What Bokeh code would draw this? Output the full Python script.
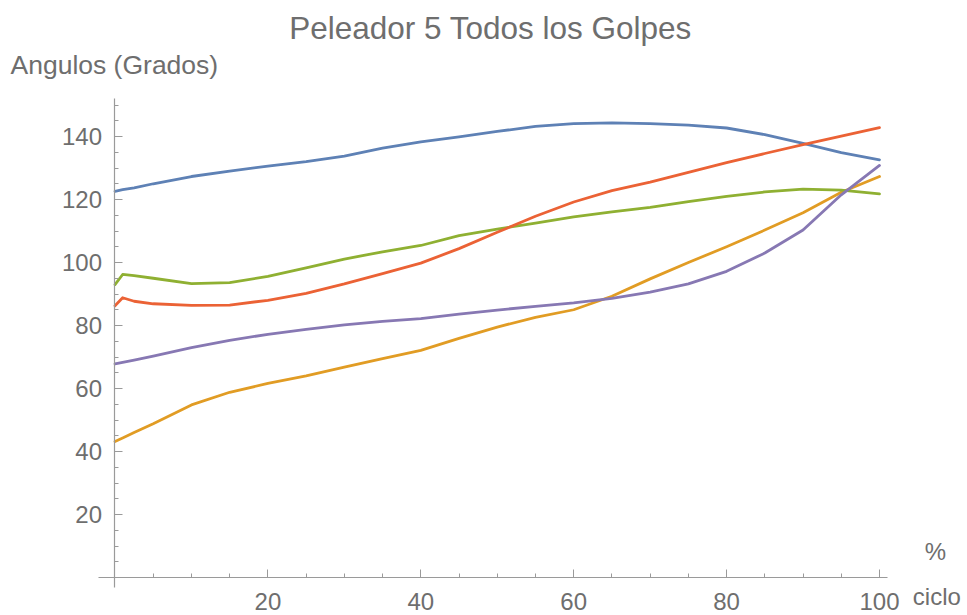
from bokeh.plotting import figure
from bokeh.models import Range1d, FixedTicker, Label
from bokeh.embed import file_html
from bokeh.resources import INLINE

# ---- data ----
ciclo = [0, 1, 2.5, 5, 10, 15, 20, 25, 30, 35, 40, 45, 50, 55, 60, 65, 70, 75, 80, 85, 90, 95, 100]

serie_azul = [122.6, 123.1, 123.7, 125.0, 127.3, 129.0, 130.6, 132.0, 133.8, 136.3, 138.3, 139.9,
              141.6, 143.2, 144.1, 144.3, 144.1, 143.6, 142.7, 140.6, 137.8, 134.9, 132.6]
serie_naranja = [43.2, 44.3, 46.0, 48.8, 54.8, 58.8, 61.6, 64.0, 66.8, 69.5, 72.1, 75.9,
                 79.5, 82.6, 85.0, 89.3, 94.8, 100.0, 105.0, 110.3, 115.8, 122.3, 127.3]
serie_verde = [93.0, 96.2, 95.8, 95.0, 93.3, 93.6, 95.6, 98.3, 101.1, 103.4, 105.4, 108.5,
               110.6, 112.5, 114.5, 116.1, 117.5, 119.3, 121.0, 122.4, 123.3, 123.0, 121.8]
serie_roja = [86.3, 88.8, 87.7, 86.9, 86.4, 86.5, 88.0, 90.2, 93.2, 96.5, 99.8, 104.4,
              109.6, 114.7, 119.2, 122.8, 125.5, 128.6, 131.7, 134.6, 137.4, 140.1, 142.8]
serie_morada = [67.8, 68.3, 69.0, 70.3, 73.0, 75.3, 77.2, 78.8, 80.2, 81.3, 82.2, 83.6,
                84.9, 86.1, 87.2, 88.6, 90.6, 93.2, 97.2, 103.0, 110.3, 121.5, 130.8]

series = [serie_azul, serie_naranja, serie_verde, serie_roja, serie_morada]
colores = ["#5E81B5", "#E19C24", "#8FB032", "#EB6235", "#8778B3"]

x_ticks = [20, 40, 60, 80, 100]
x_minor = [5, 10, 15, 25, 30, 35, 45, 50, 55, 65, 70, 75, 85, 90, 95]
y_ticks = [20, 40, 60, 80, 100, 120, 140]
y_minor = [5, 10, 15, 25, 30, 35, 45, 50, 55, 65, 70, 75, 85, 90, 95, 105, 110, 115,
           125, 130, 135, 145, 150]

titulo = "Peleador 5 Todos los Golpes"
etiqueta_y = "Angulos (Grados)"
etiqueta_x_1 = "%"
etiqueta_x_2 = "ciclo"

FONT = "Liberation Sans"
TXT = "#6e6e6e"
AX = "#9a9a9a"

# the frame covers the whole canvas; axes are drawn at x=0 / y=0
p = figure(width=967, height=615,
           x_range=Range1d(-14.977, 111.511), y_range=Range1d(-12.063, 183.175),
           output_backend="svg", toolbar_location=None,
           min_border_left=0, min_border_right=0, min_border_top=0, min_border_bottom=0)
p.title.visible = False
p.outline_line_color = None
p.grid.visible = False
p.background_fill_color = "white"

for ys, c in zip(series, colores):
    p.line(ciclo, ys, line_color=c, line_width=2.8, line_join="round", line_cap="round")

xa = p.xaxis[0]
xa.fixed_location = 0
xa.bounds = (-2.16, 101.05)
xa.ticker = FixedTicker(ticks=x_ticks, minor_ticks=x_minor)
ya = p.yaxis[0]
ya.fixed_location = 0
ya.bounds = (-3.2, 152.06)
ya.ticker = FixedTicker(ticks=y_ticks, minor_ticks=y_minor)

for ax in (xa, ya):
    ax.axis_line_color = AX
    ax.axis_line_width = 1.2
    ax.major_tick_line_color = AX
    ax.minor_tick_line_color = AX
    ax.major_tick_in = 8
    ax.major_tick_out = 0
    ax.minor_tick_in = 4
    ax.minor_tick_out = 0
    ax.major_label_text_font = FONT
    ax.major_label_text_font_size = "24px"
    ax.major_label_text_color = TXT

xa.major_label_standoff = 15
ya.major_label_standoff = 13

p.add_layout(Label(x=49.12, y=174.5, text=titulo, text_align="center", text_baseline="alphabetic",
                   text_font=FONT, text_font_size="31.5px", text_color=TXT))
p.add_layout(Label(x=-13.67, y=162.6, text=etiqueta_y, text_align="left", text_baseline="alphabetic",
                   text_font=FONT, text_font_size="26.5px", text_color=TXT))
p.add_layout(Label(x=107.3, y=8.1, text=etiqueta_x_1, text_align="center", text_baseline="alphabetic",
                   text_font=FONT, text_font_size="24px", text_color=TXT))
p.add_layout(Label(x=107.5, y=-6.0, text=etiqueta_x_2, text_align="center", text_baseline="alphabetic",
                   text_font=FONT, text_font_size="24px", text_color=TXT))

open("out.html", "w").write(file_html(p, INLINE))
